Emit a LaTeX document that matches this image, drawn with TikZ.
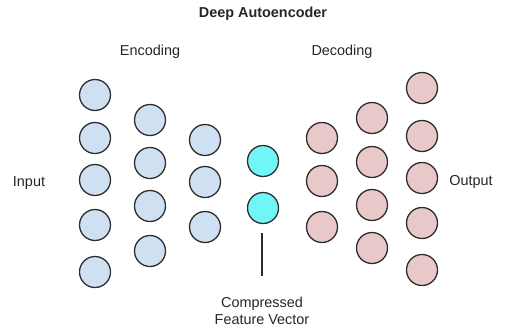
\documentclass[tikz,border=0pt]{standalone}
\usepackage{fontspec}
\setmainfont{Liberation Sans}
\definecolor{encblue}{RGB}{207,224,242}
\definecolor{decpink}{RGB}{232,200,200}
\definecolor{midcyan}{RGB}{112,246,246}
\definecolor{rim}{RGB}{45,45,45}
\tikzset{
  unit/.style={circle,draw=rim,line width=1.1pt,minimum size=0.93cm,inner sep=0pt},
  enc/.style={unit,fill=encblue},
  dec/.style={unit,fill=decpink},
  mid/.style={unit,fill=midcyan},
  lbl/.style={font=\fontsize{12.3}{14.5}\selectfont,text=black!85,align=center}
}
\begin{document}
\begin{tikzpicture}[x=0.03cm,y=-0.03cm]
      \useasboundingbox (0,0) rectangle (509,329);
      \node[lbl,font=\fontsize{12.3}{14.5}\selectfont\bfseries] (title) at (263,14) {Deep Autoencoder};
      \node[lbl] (encoding) at (150,52) {Encoding};
      \node[lbl] (decoding) at (342,52) {Decoding};
      \node[lbl] (input) at (29,183) {Input};
      \node[lbl] (output) at (471,182) {Output};
      \foreach \y [count=\i] in {95,138,180,225,272} \node[enc] (a\i) at (95,\y) {};
      \foreach \y [count=\i] in {120,163,206,251} \node[enc] (b\i) at (150,\y) {};
      \foreach \y [count=\i] in {140,182,227} \node[enc] (c\i) at (205,\y) {};
      \foreach \y [count=\i] in {161,208} \node[mid] (m\i) at (263,\y) {};
      \foreach \y [count=\i] in {138,181,227} \node[dec] (d\i) at (322,\y) {};
      \foreach \y [count=\i] in {118,162,205,248} \node[dec] (e\i) at (372,\y) {};
      \foreach \y [count=\i] in {88,136,178,223,270} \node[dec] (f\i) at (422,\y) {};
      \node[lbl] (cfv) at (262,311) {Compressed\\Feature Vector};
      \coordinate (stemtop) at (262,233);
      \coordinate (stembot) at (262,276);
      \draw[line width=1.1pt,rim] (stemtop) -- (stembot);
   \end{tikzpicture}
\end{document}
